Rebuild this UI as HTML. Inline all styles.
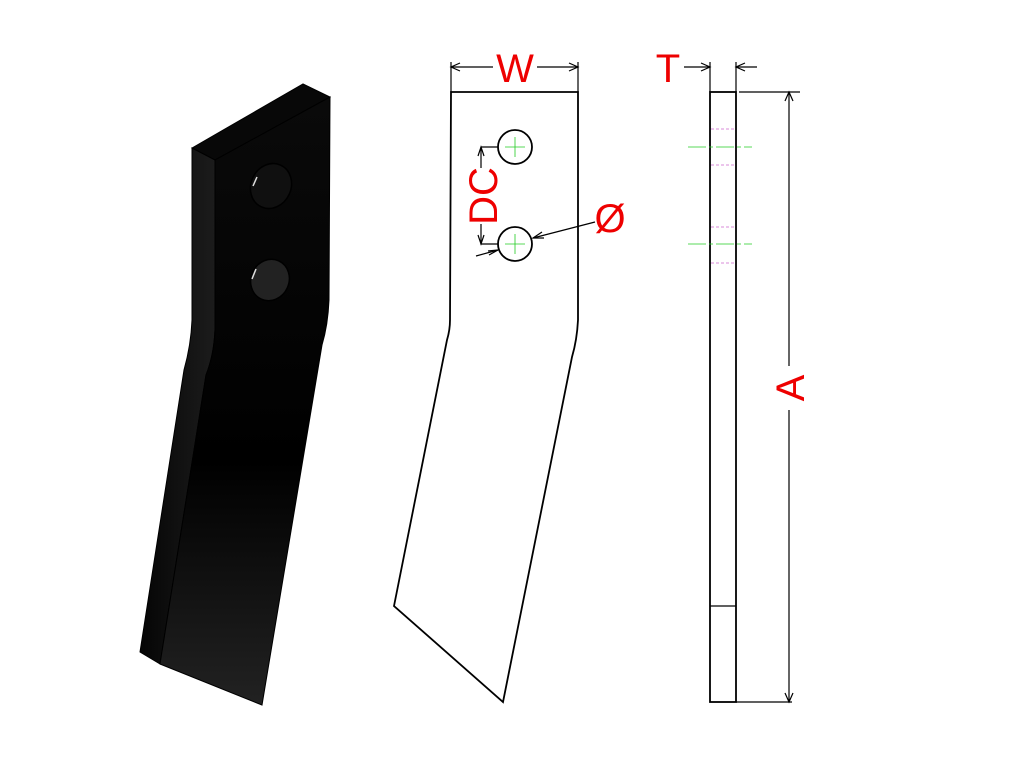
<!DOCTYPE html>
<html><head><meta charset="utf-8"><style>html,body{margin:0;padding:0;background:#fff}svg{display:block}</style></head>
<body>
<svg width="1024" height="768" viewBox="0 0 1024 768" xmlns="http://www.w3.org/2000/svg">
<defs>
<linearGradient id="fg" x1="0" y1="0" x2="0" y2="1">
<stop offset="0" stop-color="#0a0a0a"/><stop offset="0.6" stop-color="#000"/><stop offset="1" stop-color="#222"/>
</linearGradient>
<linearGradient id="sg" x1="0" y1="0" x2="1" y2="0">
<stop offset="0" stop-color="#050505"/><stop offset="1" stop-color="#1c1c1c"/>
</linearGradient>
</defs>
<!-- 3D part -->
<polygon points="192,148 303,84 330,97 215,160" fill="#080808" stroke="#000"/>
<path d="M192,148 L215,160 L215,330 Q214,355 206,375 L160,664 L140,652 L184,370 Q191,345 192,320 Z" fill="url(#sg)" stroke="#000"/>
<path d="M215,160 L330,97 L329,300 Q328,325 322,345 L262,705 L160,664 L206,375 Q214,355 215,330 Z" fill="url(#fg)" stroke="#000"/>
<ellipse cx="271" cy="186" rx="20" ry="23" transform="rotate(25 271 186)" fill="#101010" stroke="#000" stroke-width="1.5"/>
<ellipse cx="270" cy="280" rx="19" ry="21" transform="rotate(25 270 280)" fill="#222" stroke="#000" stroke-width="1.5"/>
<path d="M257,177 L253,186" stroke="#ddd" stroke-width="1.5"/>
<path d="M256,269 L252,279" stroke="#ddd" stroke-width="1.5"/>

<g fill="none" stroke="#000" stroke-width="1.8">
<!-- middle view -->
<path d="M451,92 L578,92 L578,320 Q577,340 572,357 L503,702 L394,606 L447,340 Q450,330 450,320 Z"/>
<circle cx="515" cy="147" r="17"/>
<circle cx="515" cy="244" r="17"/>
<!-- W dim -->
<line x1="451" y1="62" x2="451" y2="92" stroke-width="1.2"/>
<line x1="578" y1="62" x2="578" y2="92" stroke-width="1.2"/>
<line x1="451" y1="67" x2="493" y2="67" stroke-width="1.2"/>
<line x1="537" y1="67" x2="578" y2="67" stroke-width="1.2"/>
<path d="M460,63 L451,67 L460,71 M569,63 L578,67 L569,71" stroke-width="1.2"/>
<!-- DC dim -->
<path d="M498,147 L481,147 M481,147 L481,168 M481,224 L481,244 L498,244" stroke-width="1.2"/>
<path d="M478,156 L481,147 L484,156 M478,235 L481,244 L484,235" stroke-width="1.2"/>
<!-- dia leader -->
<path d="M595,222 L533,238 M476,256 L498,250" stroke-width="1.2"/>
<path d="M542,232 L533,238 L544,238 M488,251 L498,250 L489,255" stroke-width="1.2"/>
<!-- side view -->
<rect x="710" y="92" width="26" height="610"/>
<line x1="710" y1="606" x2="736" y2="606" stroke-width="1.2"/>
<line x1="736" y1="702" x2="792" y2="702" stroke-width="1.2"/>
<line x1="739" y1="92" x2="800" y2="92" stroke-width="1.2"/>
<line x1="789" y1="92" x2="789" y2="366" stroke-width="1.2"/>
<line x1="789" y1="410" x2="789" y2="702" stroke-width="1.2"/>
<path d="M785,101 L789,92 L793,101 M785,693 L789,702 L793,693" stroke-width="1.2"/>
<!-- T dim -->
<line x1="710" y1="62" x2="710" y2="92" stroke-width="1.2"/>
<line x1="736" y1="62" x2="736" y2="92" stroke-width="1.2"/>
<line x1="684" y1="67" x2="710" y2="67" stroke-width="1.2"/>
<line x1="736" y1="67" x2="757" y2="67" stroke-width="1.2"/>
<path d="M701,63 L710,67 L701,71 M745,63 L736,67 L745,71" stroke-width="1.2"/>
</g>
<g stroke="#2c2" stroke-width="0.8">
<path d="M505,147 L525,147 M515,137 L515,157 M505,244 L525,244 M515,234 L515,254"/>
<path d="M688,147 L752,147 M688,244 L752,244" stroke-dasharray="18,3,4,3"/>
</g>
<g stroke="#c6c" stroke-width="0.8" stroke-dasharray="3,2">
<path d="M711,129 L735,129 M711,165 L735,165 M711,227 L735,227 M711,263 L735,263"/>
</g>
<g fill="#e00" font-family="Liberation Sans, sans-serif" font-size="40">
<text x="515" y="82" text-anchor="middle">W</text>
<text x="668" y="82" text-anchor="middle">T</text>
<text x="610" y="232" text-anchor="middle">Ø</text>
<text transform="translate(497,196) rotate(-90)" text-anchor="middle">DC</text>
<text transform="translate(804,388) rotate(-90)" text-anchor="middle">A</text>
</g>
</svg>
</body></html>
